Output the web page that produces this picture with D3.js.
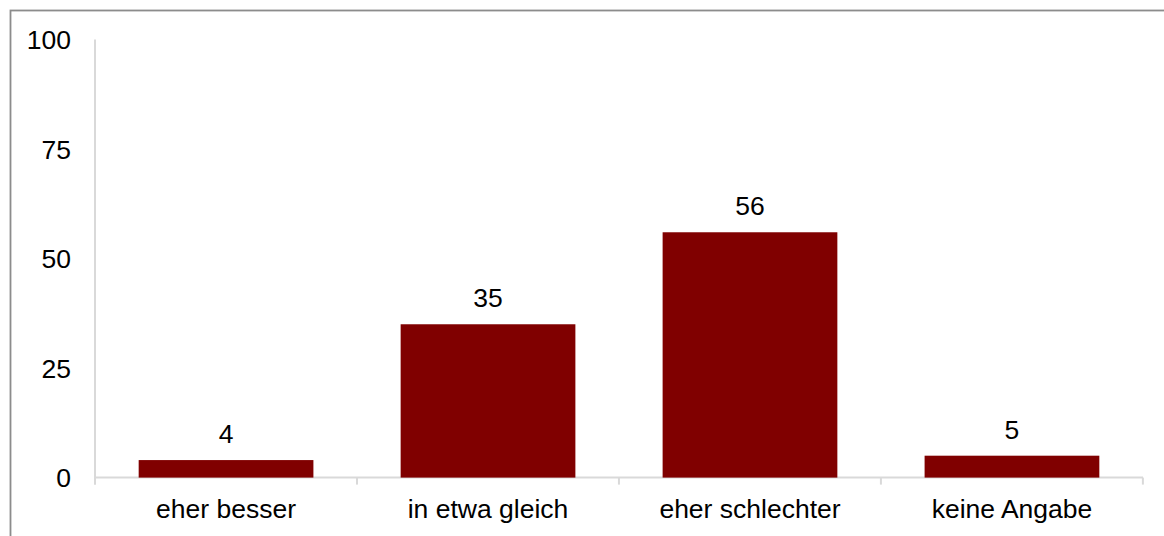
<!DOCTYPE html>
<html>
<head>
<meta charset="utf-8">
<script src="https://cdn.jsdelivr.net/npm/d3@7"></script>
<style>
  body { margin: 0; background: #fff; }
  svg { display: block; }
  text { font-family: "Liberation Sans", Arial, sans-serif; fill: #000; }
</style>
</head>
<body>
<svg id="canvas" width="1164" height="536"></svg>
<script>
// data
let categories = ['eher besser', 'in etwa gleich', 'eher schlechter', 'keine Angabe'];
let values = [4, 35, 56, 5];
let yTicks = [0, 25, 50, 75, 100];

let canvas = d3.select('#canvas');

// outer frame (runs off the right and bottom edge)
canvas.append('rect')
    .attr('x', 10.5)
    .attr('y', 10.5)
    .attr('width', 1200)
    .attr('height', 600)
    .attr('fill', 'none')
    .attr('stroke', '#8c8c8c')
    .attr('stroke-width', 1.8);

let xScale = d3.scaleBand()
    .domain(categories)
    .range([95, 1143])
    .paddingInner(0.333)
    .paddingOuter(0.1667);

let yScale = d3.scaleLinear()
    .domain([0, 100])
    .range([477.6, 39.5]);

// y axis line
canvas.append('line')
    .attr('x1', 95).attr('x2', 95)
    .attr('y1', yScale(100)).attr('y2', yScale(0) + 7)
    .attr('stroke', '#d9d9d9')
    .attr('stroke-width', 2);

// x axis line and boundary ticks
canvas.append('line')
    .attr('x1', 95).attr('x2', 1143)
    .attr('y1', yScale(0)).attr('y2', yScale(0))
    .attr('stroke', '#d9d9d9')
    .attr('stroke-width', 2);

let step = xScale.step();
let bounds = d3.range(categories.length + 1).map((i) => 95 + i * step);

canvas.selectAll('.xtick')
    .data(bounds)
    .enter()
    .append('line')
    .attr('class', 'xtick')
    .attr('x1', (d) => d).attr('x2', (d) => d)
    .attr('y1', yScale(0)).attr('y2', yScale(0) + 7)
    .attr('stroke', '#d9d9d9')
    .attr('stroke-width', 2);

// y tick labels
canvas.selectAll('.ylabel')
    .data(yTicks)
    .enter()
    .append('text')
    .attr('class', 'ylabel')
    .attr('x', 71)
    .attr('y', (d) => yScale(d))
    .attr('dy', '0.36em')
    .attr('text-anchor', 'end')
    .attr('font-size', 26.5)
    .text((d) => d);

// bars
canvas.selectAll('.bar')
    .data(values)
    .enter()
    .append('rect')
    .attr('class', 'bar')
    .attr('x', (d, i) => xScale(categories[i]))
    .attr('y', (d) => yScale(d))
    .attr('width', xScale.bandwidth())
    .attr('height', (d) => yScale(0) - yScale(d))
    .attr('fill', '#800000');

// value labels
canvas.selectAll('.vlabel')
    .data(values)
    .enter()
    .append('text')
    .attr('class', 'vlabel')
    .attr('x', (d, i) => xScale(categories[i]) + xScale.bandwidth() / 2)
    .attr('y', (d) => yScale(d) - 17)
    .attr('text-anchor', 'middle')
    .attr('font-size', 26.5)
    .text((d) => d);

// category labels
canvas.selectAll('.xlabel')
    .data(categories)
    .enter()
    .append('text')
    .attr('class', 'xlabel')
    .attr('x', (d) => xScale(d) + xScale.bandwidth() / 2)
    .attr('y', 518)
    .attr('text-anchor', 'middle')
    .attr('font-size', 26.5)
    .text((d) => d);
</script>
</body>
</html>
